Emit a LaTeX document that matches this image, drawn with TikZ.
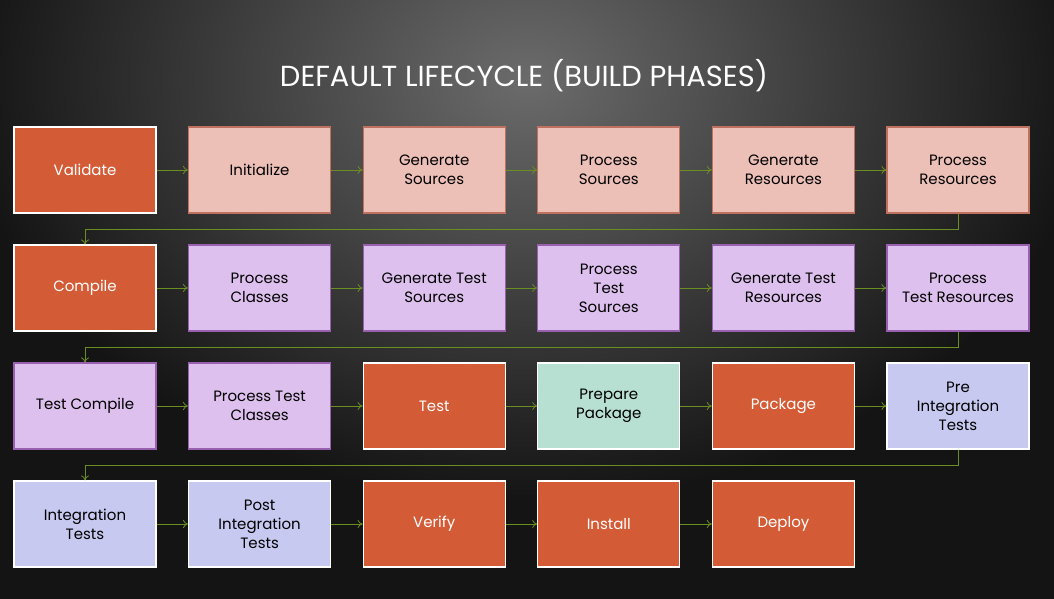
\documentclass[tikz,border=0pt]{standalone}
\usepackage{fontspec}
\setmainfont{Poppins}
\usetikzlibrary{arrows.meta}
\definecolor{org}{HTML}{D35C37}
\definecolor{pnk}{HTML}{ECBFB7}
\definecolor{pnkb}{HTML}{C0705E}
\definecolor{lav}{HTML}{DDC0EE}
\definecolor{lavb}{HTML}{9A60B0}
\definecolor{mnt}{HTML}{B7E0D2}
\definecolor{per}{HTML}{C7C9F0}
\definecolor{arr}{HTML}{6B8E23}
\begin{document}
\begin{tikzpicture}[x=1pt,y=-1pt,
 box/.style={minimum width=142pt,minimum height=86pt,align=center,font=\fontsize{15}{19}\selectfont,line width=1.2pt,inner sep=2pt},
 ob/.style={box,fill=org,draw=white,text=white},
 pb/.style={box,fill=pnk,draw=pnkb,text=black},
 lb/.style={box,fill=lav,draw=lavb,text=black},
 mb/.style={box,fill=mnt,draw=white,text=black},
 eb/.style={box,fill=per,draw=white,text=black},
 con/.style={draw=arr,line width=0.8pt,-{To[length=5pt,width=8pt]}}]
\useasboundingbox (0,0) rectangle (1054,599);
\fill[black!92] (0,0) rectangle (1054,599);
\shade[inner color=black!58,outer color=black!92] (527,80) ellipse (560pt and 420pt);
\node[text=white,font=\fontsize{29}{34}\selectfont] (t) at (524,76) {DEFAULT LIFECYCLE (BUILD PHASES)};
\foreach \n/\s/\t [count=\i from 0] in {
 a1/ob/Validate, a2/pb/Initialize, a3/pb/Generate\\Sources, a4/pb/Process\\Sources, a5/pb/Generate\\Resources, a6/pb/Process\\Resources,
 b1/ob/Compile, b2/lb/Process\\Classes, b3/lb/Generate Test\\Sources, b4/lb/Process\\Test\\Sources, b5/lb/Generate Test\\Resources, b6/lb/Process\\Test Resources,
 c1/lb/Test Compile, c2/lb/Process Test\\Classes, c3/ob/Test, c4/mb/Prepare\\Package, c5/ob/Package, c6/eb/Pre\\Integration\\Tests,
 d1/eb/Integration\\Tests, d2/eb/Post\\Integration\\Tests, d3/ob/Verify, d4/ob/Install, d5/ob/Deploy}{
 \pgfmathsetmacro\px{85+174.6*mod(\i,6)}
 \pgfmathsetmacro\py{170+118*floor(\i/6)}
 \node[\s] (\n) at (\px,\py) {\t};
}
\foreach \r in {a,b,c}{
 \foreach \p/\q in {1/2,2/3,3/4,4/5,5/6}{\draw[con] (\r\p) -- (\r\q);}}
\foreach \p/\q in {1/2,2/3,3/4,4/5}{\draw[con] (d\p) -- (d\q);}
\draw[con] (a6.south) -- ++(0,16) -| (b1.north);
\draw[con] (b6.south) -- ++(0,16) -| (c1.north);
\draw[con] (c6.south) -- ++(0,16) -| (d1.north);
\end{tikzpicture}
\end{document}
